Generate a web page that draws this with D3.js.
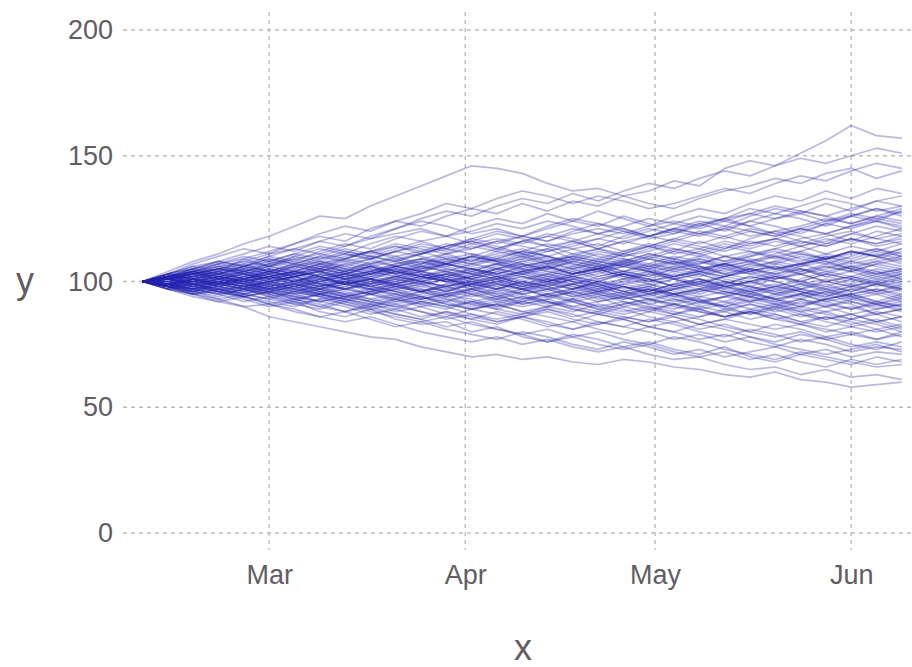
<!DOCTYPE html>
<html>
<head>
<meta charset="utf-8">
<script src="https://cdn.jsdelivr.net/npm/d3@7"></script>
<style>
html,body{margin:0;padding:0;background:#fff;}
svg{display:block;font-family:"Liberation Sans",Arial,Helvetica,sans-serif;}
</style>
</head>
<body>
<svg id="chart" width="912" height="667"></svg>
<script>
// ---- data ----
const startDate = "2020-02-10";
const stepDays = 4;
const yTicks = [0, 50, 100, 150, 200];
const xTickDates = ["2020-03-01", "2020-04-01", "2020-05-01", "2020-06-01"];
const xTickLabels = ["Mar", "Apr", "May", "Jun"];
const xTitle = "x";
const yTitle = "y";
const paths = [
[100,104,108,111,115,118,122,126,125,130,134,138,142,146,145,143,139,136,137,134,136,140,138,145,148,146,151,156,162,158,157],
[100,97,94,92,90,86,84,82,80,78,77,74,72,70,71,69,70,68,67,69,68,66,65,63,62,64,61,60,58,59,60],
[100,103,106,104,109,112,115,118,116,121,124,122,126,129,127,131,128,132,130,134,131,129,133,136,138,141,139,143,145,141,144],
[100,98,95,96,93,90,92,88,86,89,85,83,84,80,82,78,76,79,77,74,76,73,71,74,70,68,71,69,67,70,68],
[100,101,99,102,104,101,103,106,104,108,106,109,111,108,112,110,113,109,107,111,114,112,116,113,117,120,118,115,119,122,120],
[100,99,101,98,96,99,97,94,96,93,95,92,94,97,95,91,93,96,94,90,92,95,93,89,91,88,90,93,91,87,89],
[100,102,105,103,101,104,107,105,109,112,110,107,111,114,112,116,119,117,114,118,121,119,123,120,124,127,125,122,126,129,127],
[100,98,96,99,102,100,97,95,98,101,99,102,100,97,94,96,99,97,100,103,101,98,96,99,102,100,97,95,98,96,99],
[100,101,103,106,104,107,105,102,104,101,98,100,103,101,104,107,105,108,106,103,100,102,99,97,100,98,101,104,102,105,103],
[100,97,99,96,94,91,93,90,88,91,89,86,88,85,83,86,84,81,83,86,84,87,85,82,80,83,81,78,80,77,79],
[100,103,101,104,107,110,108,112,115,113,117,120,118,122,125,123,127,124,128,125,122,126,129,127,131,134,132,136,133,137,135],
[100,99,97,100,98,95,97,100,102,99,101,104,106,103,101,98,100,103,105,102,99,101,98,96,94,97,95,92,94,91,93],
[100,102,100,98,101,99,102,104,107,105,103,106,104,101,99,102,100,97,99,96,98,101,103,100,98,95,97,100,98,101,99],
[100,98,101,103,100,102,99,96,98,95,97,94,92,95,93,96,98,95,92,94,91,89,92,90,87,89,86,88,85,87,84],
[100,101,104,107,109,106,110,113,111,115,118,116,113,117,120,118,121,124,122,126,123,120,118,121,124,122,119,123,126,124,128],
[100,99,96,94,97,95,92,90,93,91,88,90,87,85,88,86,89,87,84,82,85,83,80,78,81,79,76,78,75,73,76],
[100,100,102,99,101,104,102,100,103,106,108,105,107,110,108,105,103,106,109,107,110,113,111,108,110,113,116,114,117,115,118],
[100,101,98,100,97,99,96,98,101,99,96,94,96,99,97,100,98,95,97,94,96,99,101,98,100,102,99,97,94,96,93],
[100,103,106,108,111,114,112,116,119,117,121,124,122,119,121,118,122,125,123,120,117,119,122,125,129,127,130,133,131,128,130],
[100,97,95,92,94,91,89,86,88,85,82,84,81,79,77,80,78,75,73,76,74,71,73,70,72,74,71,73,70,72,71],
[100,102,104,101,103,105,103,106,104,107,109,106,104,102,105,107,104,102,100,103,105,108,106,103,101,104,107,109,112,110,108],
[100,98,99,101,99,97,95,97,94,96,98,100,97,99,101,103,100,102,104,101,99,97,100,102,105,103,106,108,105,103,105],
[100,101,103,100,98,100,102,99,97,99,102,104,102,105,103,100,98,101,99,96,94,97,95,98,96,93,95,97,99,96,98],
[100,99,102,104,101,99,101,98,100,103,105,107,110,108,111,113,110,108,111,109,106,108,105,107,110,112,109,107,110,113,111],
[100,101,99,97,95,98,96,94,92,95,93,90,92,89,91,94,92,89,87,90,88,91,89,86,88,85,83,86,84,81,83],
[100,102,105,107,105,108,111,109,112,110,108,111,114,116,114,111,113,116,119,117,120,123,121,124,122,119,121,124,127,125,128],
[100,98,100,102,105,103,106,108,105,103,106,104,101,99,102,104,106,109,107,104,102,105,107,110,108,105,103,100,102,99,101],
[100,99,97,99,102,100,98,101,99,96,98,100,98,101,104,102,99,97,95,98,96,93,91,94,92,90,93,91,89,92,90],
[100,101,104,102,100,103,105,108,106,109,112,115,113,116,119,117,114,116,113,111,114,117,115,118,121,119,116,114,117,115,117],
[100,97,96,98,95,93,96,94,91,89,91,88,86,89,87,85,82,84,81,79,82,80,77,79,76,74,77,75,72,74,73],
[100,100,98,101,103,101,104,102,99,102,100,98,96,99,101,104,102,105,108,106,109,107,104,102,104,107,105,102,100,103,101],
[100,102,101,99,101,98,100,103,101,98,96,93,95,97,94,92,95,97,100,98,95,97,99,96,94,92,95,98,96,99,97],
[100,103,105,108,106,109,107,110,113,111,114,112,109,107,110,112,115,113,110,108,111,109,112,115,113,116,114,111,109,112,110],
[100,98,96,93,95,97,94,92,90,87,89,92,90,87,85,87,90,88,91,89,86,84,86,89,87,90,88,85,87,84,86],
[100,101,103,105,103,100,102,104,101,103,106,108,106,109,107,104,106,103,105,107,104,106,109,107,104,101,103,106,104,107,105],
[100,99,101,98,100,102,104,102,99,97,99,96,98,100,97,95,97,99,96,94,97,95,92,94,97,99,96,94,97,95,92],
[100,102,99,101,104,106,109,107,104,106,103,105,108,110,113,111,108,110,113,116,114,117,120,118,115,117,120,123,121,124,122],
[100,98,97,95,92,94,91,93,95,92,90,88,85,87,84,86,88,85,83,85,82,80,83,81,78,76,79,77,74,76,74],
[100,101,102,104,102,104,101,99,101,104,102,100,102,104,107,105,102,100,98,100,103,101,98,100,97,95,98,100,102,100,103],
[100,99,98,100,98,96,98,100,97,99,101,99,96,94,96,93,95,92,94,96,93,91,93,90,92,95,93,96,94,91,94],
[100,103,102,105,108,106,104,107,110,112,109,111,114,117,115,118,116,120,123,121,118,121,124,122,126,129,127,131,128,132,130],
[100,97,98,96,94,92,90,93,91,88,86,84,86,83,81,79,81,78,80,77,75,78,76,73,71,69,72,70,68,66,67],
[100,100,102,104,101,99,97,100,102,104,106,104,107,105,103,106,108,111,109,112,115,113,111,114,112,109,112,115,117,114,116],
[100,101,99,96,98,100,102,99,101,103,101,99,101,98,100,102,100,103,105,102,104,101,99,102,105,103,100,98,101,99,102],
[100,98,101,99,97,94,96,99,97,100,98,96,99,102,100,103,106,104,101,103,100,102,104,107,105,108,111,109,112,110,113],
[100,102,100,103,105,103,100,98,100,97,95,97,94,96,93,91,93,90,88,91,93,90,88,86,89,87,84,82,85,83,80],
[100,101,103,101,104,107,110,108,111,109,106,108,105,103,105,108,110,107,105,108,111,109,106,104,107,110,108,111,114,112,115],
[100,99,97,95,97,100,98,96,99,101,104,102,100,98,95,97,100,98,95,93,95,98,101,99,102,100,97,99,96,99,97],
[100,102,104,107,110,108,111,114,112,110,113,116,118,115,113,116,114,111,113,110,112,115,113,110,108,111,114,117,115,118,121],
[100,98,96,98,100,97,95,92,94,96,93,95,97,95,92,90,92,89,87,85,88,86,83,85,88,86,83,81,79,81,78],
[100,101,100,102,100,98,100,103,105,103,106,104,102,100,98,101,103,100,98,101,103,106,104,101,99,102,100,103,101,98,100],
[100,99,101,103,106,104,102,105,103,101,99,102,100,103,106,109,107,110,108,106,109,112,110,113,116,114,117,119,116,120,118],
[100,98,95,97,99,96,98,95,93,90,92,94,91,89,91,88,86,84,87,85,82,84,81,83,80,78,80,77,79,77,80],
[100,101,103,105,107,104,102,104,107,109,112,110,107,110,108,111,109,106,104,107,105,102,104,107,109,107,110,108,105,108,106],
[100,99,97,100,98,101,99,97,100,98,100,103,101,98,100,97,95,97,100,98,96,99,97,95,98,96,99,101,99,102,100],
[100,102,104,102,99,102,104,107,109,112,114,111,114,116,113,116,118,121,119,122,125,123,126,124,127,130,128,126,129,132,134],
[100,98,99,97,95,93,91,89,92,90,93,91,89,92,90,93,95,93,90,92,89,87,90,88,91,89,92,90,93,91,88],
[100,101,98,100,102,105,103,101,103,100,102,105,107,105,102,104,101,104,106,103,101,98,100,97,95,98,96,94,97,99,96],
[100,99,100,98,96,98,95,97,99,97,94,96,99,97,100,98,101,99,96,99,101,104,102,105,103,101,104,106,104,107,109],
[100,102,101,99,97,99,97,95,97,100,102,100,98,96,99,97,94,96,93,95,97,94,92,90,93,91,89,87,85,88,86],
[100,103,105,103,106,109,107,110,108,106,103,106,108,106,109,112,110,107,105,108,106,104,106,103,105,102,100,103,106,104,102],
[100,97,95,97,94,96,93,91,88,90,87,85,88,86,84,86,83,81,84,82,80,77,79,76,78,75,73,71,73,75,72],
[100,101,104,106,108,111,113,111,114,117,119,121,118,120,123,121,124,122,119,121,118,120,123,125,122,125,127,124,126,129,126],
[100,99,101,99,101,103,100,102,99,97,99,101,103,100,102,99,97,94,96,93,95,92,94,96,94,91,93,90,92,89,91],
[100,100,97,99,101,103,106,104,101,103,105,102,104,107,109,107,105,103,106,108,105,107,110,108,111,113,111,109,112,110,107],
[100,102,104,101,99,97,99,96,94,96,99,97,95,92,94,97,99,102,100,97,99,96,94,92,95,93,90,93,95,92,95],
[100,98,97,99,97,94,92,95,93,91,93,96,94,91,89,92,90,93,95,92,90,88,86,88,85,87,84,86,83,85,82],
[100,101,103,101,99,101,103,100,102,104,107,109,107,104,107,109,112,114,117,115,118,121,119,122,120,118,121,119,122,124,121],
[100,99,96,99,97,100,102,99,97,95,97,99,96,99,97,100,103,101,98,95,97,94,96,98,95,93,95,92,89,91,89],
[100,102,103,105,103,106,104,102,99,101,104,102,105,103,101,104,106,103,105,107,110,108,105,103,106,108,106,110,107,109,112],
[100,98,95,93,90,91,88,86,84,86,83,80,78,76,78,75,77,74,72,74,71,69,70,67,65,66,63,65,62,63,61],
[100,101,99,97,94,96,93,95,92,89,87,85,82,84,81,79,76,78,75,73,75,72,70,72,69,71,68,66,69,67,69],
[100,102,105,108,106,110,113,116,114,118,121,125,128,126,130,133,131,135,132,136,139,137,141,144,142,146,149,147,150,153,151],
[100,103,107,110,113,111,115,119,122,120,124,127,131,129,133,136,134,131,134,132,129,131,134,137,135,139,142,140,144,147,145],
[100,101,102,100,103,101,99,102,104,102,105,103,100,102,105,108,106,103,105,102,100,103,101,98,100,103,105,102,104,101,103],
[100,99,97,98,100,102,100,97,99,101,98,96,98,95,97,100,98,101,99,96,98,95,97,99,96,98,100,97,95,97,94],
[100,102,103,105,104,106,108,106,109,107,104,107,109,111,109,112,110,113,115,112,114,111,113,116,114,117,115,118,120,117,119],
[100,98,99,97,98,96,94,96,94,92,94,91,93,90,92,94,91,93,90,88,90,87,89,86,88,90,87,85,87,84,86],
[100,101,99,101,99,102,104,101,103,105,103,100,102,99,101,98,100,102,99,101,104,102,105,107,104,106,103,105,108,106,104],
[100,99,100,102,100,98,96,98,100,98,101,103,101,104,102,99,101,98,96,98,95,97,99,102,100,97,99,96,98,100,97],
[100,102,101,103,106,104,107,105,108,110,108,111,113,111,108,110,107,109,112,110,113,116,114,112,115,117,114,116,119,117,115],
[100,98,97,95,97,95,93,95,97,95,92,94,91,89,91,88,90,92,89,87,89,91,88,86,88,85,87,84,82,84,81],
[100,101,103,102,100,102,100,103,101,99,102,100,98,100,102,99,97,99,102,104,102,105,103,100,98,101,103,100,98,100,98],
[100,100,98,100,102,104,102,104,106,104,102,104,107,105,107,110,108,105,107,104,106,109,107,110,112,110,107,109,106,108,110],
[100,101,100,98,96,98,100,98,95,97,95,93,95,97,99,97,94,96,98,95,93,95,92,94,96,93,91,93,95,92,90],
[100,99,101,103,101,104,106,104,102,104,107,109,107,110,108,106,108,110,108,111,109,107,109,106,108,110,112,109,111,113,110],
[100,102,100,102,100,97,99,101,99,101,99,96,98,100,98,95,97,94,96,98,96,99,101,98,96,98,96,93,95,97,95],
[100,98,100,99,101,103,101,98,100,102,104,102,104,101,103,105,107,105,102,104,107,105,108,106,103,105,107,104,106,103,105],
[100,101,99,100,98,100,102,104,102,100,97,99,101,98,96,98,96,99,97,100,98,95,97,95,92,94,97,95,92,90,92],
[100,100,102,104,106,108,106,109,111,109,112,114,112,115,117,115,118,116,113,116,118,116,119,121,118,120,122,125,123,126,124],
[100,99,98,96,94,96,98,95,93,95,98,96,93,91,93,95,92,90,92,94,91,93,90,92,89,91,88,90,87,89,91],
[100,101,103,105,103,105,103,105,103,106,104,101,103,105,103,106,104,102,104,106,104,101,103,106,108,105,107,110,108,111,109],
[100,100,99,101,99,97,99,97,100,98,96,98,101,99,97,99,102,100,97,99,97,95,97,100,98,96,94,96,93,95,97],
[100,102,104,103,105,107,109,111,109,112,115,113,111,113,116,114,112,115,117,120,118,121,119,117,120,118,121,119,122,125,123],
[100,98,96,97,95,97,99,97,95,93,91,93,95,93,90,92,94,92,89,91,93,91,89,91,94,92,90,88,90,87,89],
[100,101,102,101,103,101,103,105,103,106,104,106,109,107,105,103,105,108,106,109,107,110,108,105,107,105,107,109,112,110,113],
[100,99,100,102,104,102,100,102,100,98,100,102,100,102,105,103,101,99,101,103,101,98,100,98,100,102,105,103,101,104,101],
[100,100,98,96,98,96,94,92,94,92,90,92,90,92,89,87,89,86,88,86,84,86,83,85,83,81,83,80,82,80,82],
[100,102,104,106,104,102,104,107,105,107,110,112,115,113,116,118,116,119,121,119,122,124,122,125,127,125,128,126,123,126,129],
[100,99,101,100,98,100,98,101,103,101,99,101,103,101,99,97,99,101,103,106,104,102,104,102,104,106,104,107,105,102,104]
];

// ---- chart ----
const svg = d3.select("#chart");
const parse = d3.timeParse("%Y-%m-%d");
const t0 = parse(startDate);
const dayMs = 864e5;
const series = paths.map(p => p.map((v, i) => ({date: new Date(t0.getTime() + i * stepDays * dayMs), value: v})));
const tEnd = series[0][series[0].length - 1].date;

const x = d3.scaleTime()
  .domain([new Date(t0.getTime() - 3.1 * dayMs), new Date(tEnd.getTime() + 1.3 * dayMs)])
  .range([123, 910]);
const y = d3.scaleLinear().domain([0, 200]).range([533, 30]);

const gridColor = "#bdbdbd";
const textColor = "#615d63";

// horizontal grid
svg.append("g").selectAll("line").data(yTicks).join("line")
  .attr("x1", 123).attr("x2", 912)
  .attr("y1", d => y(d)).attr("y2", d => y(d))
  .attr("stroke", gridColor).attr("stroke-width", 1.4)
  .attr("stroke-dasharray", "4,4");

// vertical grid
const xt = xTickDates.map(parse);
svg.append("g").selectAll("line").data(xt).join("line")
  .attr("x1", d => x(d)).attr("x2", d => x(d))
  .attr("y1", 12).attr("y2", 550)
  .attr("stroke", gridColor).attr("stroke-width", 1.4)
  .attr("stroke-dasharray", "4,4");

// y axis labels
const yAxis = d3.axisLeft(y).tickValues(yTicks).tickSize(0).tickPadding(0);
const gy = svg.append("g").attr("transform", "translate(113,0)").call(yAxis);
gy.select(".domain").remove();
gy.selectAll("text").attr("fill", textColor).style("font-size", "27px")
  .attr("font-family", "'Liberation Sans',Arial,sans-serif");

// x axis labels
const xAxis = d3.axisBottom(x).tickValues(xt).tickFormat((d, i) => xTickLabels[i]).tickSize(0).tickPadding(0);
const gx = svg.append("g").attr("transform", "translate(0,565)").call(xAxis);
gx.select(".domain").remove();
gx.selectAll("text").attr("fill", textColor).style("font-size", "27px")
  .attr("font-family", "'Liberation Sans',Arial,sans-serif");

// lines
const line = d3.line().x(d => x(d.date)).y(d => y(d.value));
svg.append("g").selectAll("path").data(series).join("path")
  .attr("d", line)
  .attr("fill", "none")
  .attr("stroke", "#2222b0")
  .attr("stroke-opacity", 0.32)
  .attr("stroke-width", 1.7)
  .attr("stroke-linejoin", "round");

// titles
svg.append("text").attr("x", 25).attr("y", 293).attr("text-anchor", "middle")
  .attr("fill", textColor).style("font-size", "36px").text(yTitle);
svg.append("text").attr("x", 523).attr("y", 660).attr("text-anchor", "middle")
  .attr("fill", textColor).style("font-size", "36px").text(xTitle);
</script>
</body>
</html>
